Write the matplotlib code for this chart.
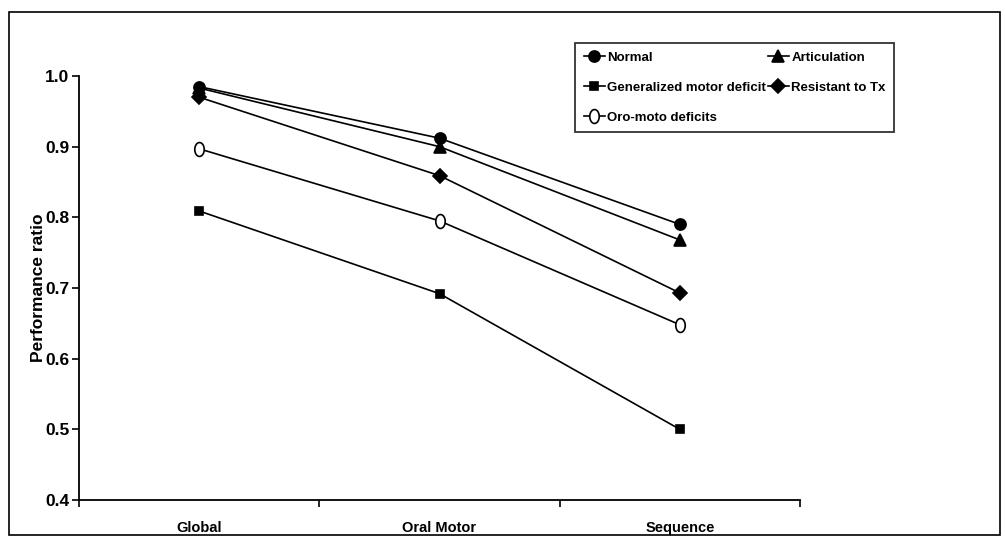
import matplotlib
matplotlib.use("Agg")
import numpy as np
import matplotlib.pyplot as plt
from matplotlib.patches import Rectangle
from matplotlib import font_manager

names = {f.name for f in font_manager.fontManager.ttflist}
fam = ['Liberation Sans Narrow'] if 'Liberation Sans Narrow' in names else ['Liberation Sans', 'DejaVu Sans']
plt.rcParams['font.family'] = fam + ['DejaVu Sans']

categories = ["Global", "Oral Motor", "Sequence"]
series_names = ["Normal", "Articulation", "Generalized motor deficit", "Resistant to Tx", "Oro-moto deficits"]
normal = [0.985, 0.912, 0.79]
articulation = [0.983, 0.90, 0.768]
generalized = [0.809, 0.692, 0.50]
resistant = [0.97, 0.859, 0.693]
oro_motor = [0.897, 0.795, 0.648]
yticks = [0.4, 0.5, 0.6, 0.7, 0.8, 0.9, 1.0]
ytick_labels = ["0.4", "0.5", "0.6", "0.7", "0.8", "0.9", "1.0"]

W, H = 1005, 539
fig = plt.figure(figsize=(W / 100, H / 100), dpi=100)
ax_l, ax_r, ax_t, ax_b = 79, 800, 76, 500
ax = fig.add_axes([ax_l / W, 1 - ax_b / H, (ax_r - ax_l) / W, (ax_b - ax_t) / H])

# tall ellipse marker shape for the open-circle series
_t = np.linspace(0, 2 * np.pi, 40)
ellipse = list(zip(0.68 * np.cos(_t), np.sin(_t)))

xs = [i + 0.5 for i in range(len(categories))]
styles = [
    dict(marker='o', mfc='black', ms=8),
    dict(marker='^', mfc='black', ms=8),
    dict(marker='s', mfc='black', ms=5.5),
    dict(marker='D', mfc='black', ms=7.5),
    dict(marker=ellipse, mfc='white', ms=10),
]
data = [normal, articulation, generalized, resistant, oro_motor]
handles = []
for vals, name, st in zip(data, series_names, styles):
    h, = ax.plot(xs, vals, color='black', lw=1.2, mec='black', mew=1.2, label=name, **st)
    handles.append(h)

ax.set_xlim(0, 3)
ax.set_ylim(0.4, 1.0)
ax.set_yticks(yticks)
ax.set_yticklabels(ytick_labels, fontsize=12.5, fontweight='bold')
ax.set_xticks([0, 1, 2, 3])
ax.set_xticklabels([])
ax.set_xticks(xs, minor=True)
ax.set_xticklabels(categories, minor=True, fontsize=10.5, fontweight='bold')
ax.tick_params(axis='x', which='minor', length=0, pad=15)
ax.tick_params(axis='x', which='major', length=5, direction='out', width=1.2)
ax.tick_params(axis='y', length=5, direction='out', width=1.2, pad=2)
for s in ['top', 'right']:
    ax.spines[s].set_visible(False)
for s in ['left', 'bottom']:
    ax.spines[s].set_linewidth(1.3)
ax.set_ylabel("Performance ratio", fontsize=12.5, fontweight='bold', labelpad=-1)

order = [0, 2, 4, 1, 3]
leg = ax.legend([handles[i] for i in order], [series_names[i] for i in order],
                ncol=2, loc='upper left',
                bbox_to_anchor=((575 - ax_l) / (ax_r - ax_l), 1 + (ax_t - 43) / (ax_b - ax_t)),
                frameon=True, fancybox=False, edgecolor='black', fontsize=9.5,
                handlelength=1.6, handletextpad=0.2, columnspacing=0.1, labelspacing=1.35,
                borderpad=0.65, borderaxespad=0)
leg.get_frame().set_linewidth(1.3)
for t in leg.get_texts():
    t.set_fontweight('bold')

fig.patches.append(Rectangle((9 / W, 1 - 535 / H), 991 / W, 523 / H, transform=fig.transFigure,
                             fill=False, edgecolor='black', lw=1.2))

fig.savefig("out.png", dpi=100, facecolor='white')
